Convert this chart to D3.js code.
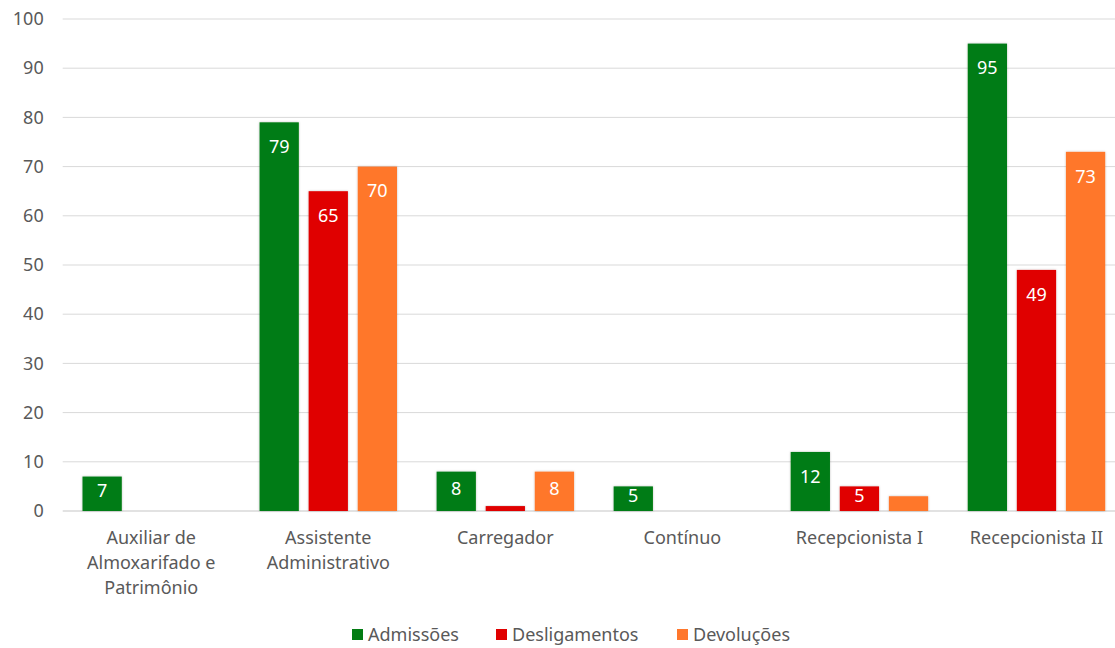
<!DOCTYPE html>
<html>
<head>
<meta charset="utf-8">
<script src="https://cdn.jsdelivr.net/npm/d3@7"></script>
<style>
  body { margin: 0; background: #fff; overflow: hidden; }
  text { font-family: "Noto Sans", sans-serif; }
</style>
</head>
<body>
<div id="chart"></div>
<script>
// Datos
const categories = ["Auxiliar de Almoxarifado e Patrimônio", "Assistente Administrativo", "Carregador", "Contínuo", "Recepcionista I", "Recepcionista II"]
const seriesNames = ["Admissões", "Desligamentos", "Devoluções"]
const admissoes = [7, 79, 8, 5, 12, 95]
const desligamentos = [0, 65, 1, 0, 5, 49]
const devolucoes = [0, 70, 8, 0, 3, 73]
const yTicks = [0, 10, 20, 30, 40, 50, 60, 70, 80, 90, 100]
const colors = ["#037c13", "#e00000", "#ff772c"]

// ----------------------------------------------------------

const width = 1115
const height = 648
// el área del gráfico sigue más allá del borde derecho (recortada)
const margin = { top: 19, bottom: 137, left: 62.7, right: -10 }

const svg = d3.select("div#chart").append("svg")
    .attr("width", width)
    .attr("height", height)

// sombra suave de las barras
const defs = svg.append("defs")
const filt = defs.append("filter").attr("id", "shadow")
    .attr("x", "-20%").attr("y", "-20%").attr("width", "140%").attr("height", "140%")
filt.append("feDropShadow").attr("dx", 0).attr("dy", 0).attr("stdDeviation", 1.2)
    .attr("flood-color", "#000").attr("flood-opacity", 0.25)

const elementGroup = svg.append("g").attr("transform", `translate(${margin.left} ${margin.top})`)
const innerW = width - margin.left - margin.right
const innerH = height - margin.top - margin.bottom

const scaleX = d3.scaleBand().domain(categories).range([0, innerW])
const scaleY = d3.scaleLinear().domain([0, 100]).range([innerH, 0])
const scaleSub = d3.scaleBand().domain(seriesNames)
    .range([19.8, scaleX.bandwidth() - 19.8]).paddingInner(0.2)

// Rejilla
elementGroup.append("g").selectAll("line").data(yTicks).join("line")
    .attr("x1", 0).attr("x2", innerW)
    .attr("y1", d => scaleY(d)).attr("y2", d => scaleY(d))
    .attr("stroke", "#d9d9d9").attr("stroke-width", d => d === 0 ? 1.5 : 1)

// Eje y
const yAxis = d3.axisLeft(scaleY).tickValues(yTicks).tickSize(0).tickPadding(19)
const yAxisGroup = elementGroup.append("g").call(yAxis)
yAxisGroup.select(".domain").remove()
yAxisGroup.selectAll("text").attr("fill", "#595959").style("font-size", "18px")

// Eje x
const xAxis = d3.axisBottom(scaleX).tickSize(0).tickPadding(0)
const xAxisGroup = elementGroup.append("g").attr("transform", `translate(0 ${innerH})`).call(xAxis)
xAxisGroup.select(".domain").remove()
xAxisGroup.selectAll("text").attr("fill", "#595959").attr("dy", null).style("font-size", "18px")
    .call(wrap, 150)

function wrap(texts, w) {
    texts.each(function() {
        const t = d3.select(this)
        const words = t.text().split(/\s+/)
        t.text(null)
        let line = [], lines = []
        const tmp = t.append("tspan")
        words.forEach(word => {
            line.push(word)
            tmp.text(line.join(" "))
            if (tmp.node().getComputedTextLength() > w && line.length > 1) {
                line.pop()
                lines.push(line.join(" "))
                line = [word]
            }
        })
        lines.push(line.join(" "))
        tmp.remove()
        lines.forEach((l, i) => {
            t.append("tspan").attr("x", 0).attr("y", 33 + i * 25).text(l)
        })
    })
}

// Barras
const series = [admissoes, desligamentos, devolucoes]
const groups = elementGroup.selectAll("g.serie").data(series).join("g")
    .attr("class", "serie")
groups.each(function(vals, si) {
    const g = d3.select(this)
    const rows = vals.map((v, i) => ({ cat: categories[i], v: v }))
    g.selectAll("rect").data(rows.filter(d => d.v > 0)).join("rect")
        .attr("x", d => scaleX(d.cat) + scaleSub(seriesNames[si]))
        .attr("y", d => scaleY(d.v))
        .attr("width", scaleSub.bandwidth())
        .attr("height", d => innerH - scaleY(d.v))
        .attr("fill", colors[si])
        .attr("filter", "url(#shadow)")
    // etiquetas dentro de la barra (sólo si cabe)
    g.selectAll("text").data(rows.filter(d => d.v >= 5)).join("text")
        .attr("x", d => scaleX(d.cat) + scaleSub(seriesNames[si]) + scaleSub.bandwidth() / 2)
        .attr("y", d => {
            const h = innerH - scaleY(d.v)
            return scaleY(d.v) + Math.min(24.5, h / 2 - 3)
        })
        .attr("dy", "0.35em")
        .attr("text-anchor", "middle")
        .attr("fill", "#fff")
        .style("font-size", "18px")
        .text(d => d.v)
})

// Leyenda
const legendX = [352, 496, 677]
const legend = svg.append("g").selectAll("g").data(seriesNames).join("g")
    .attr("transform", (d, i) => `translate(${legendX[i]} 629)`)
legend.append("rect").attr("width", 11).attr("height", 11).attr("fill", (d, i) => colors[i])
legend.append("text").attr("x", 16).attr("y", 12).attr("fill", "#595959")
    .style("font-size", "18px").text(d => d)
</script>
</body>
</html>
